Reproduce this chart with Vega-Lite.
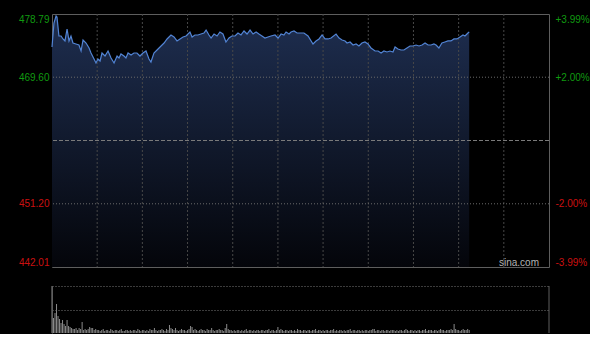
{
  "$schema": "https://vega.github.io/schema/vega-lite/v6.json",
  "background": "#000000",
  "padding": {"left": 17, "top": 13, "right": 0, "bottom": 0},
  "spacing": 19,
  "bounds": "flush",
  "config": {
    "view": {"stroke": null},
    "font": "Liberation Sans",
    "axis": {"labelFont": "Liberation Sans", "labelFontSize": 10, "ticks": false, "tickSize": 0, "domain": false, "title": null}
  },
  "datasets": {
    "price": [
      {"m":0,"p":473.99},{"m":1.3,"p":477.48},{"m":2.7,"p":478.5},{"m":3.3,"p":478.35},{"m":4.6,"p":475.59},{"m":6.0,"p":475.59},{"m":7.3,"p":475.16},{"m":8.6,"p":474.87},{"m":10.0,"p":476.61},{"m":11.3,"p":474.87},{"m":12.6,"p":475.59},{"m":13.9,"p":474.57},{"m":15.9,"p":474.43},{"m":17.9,"p":474.28},{"m":19.3,"p":473.41},{"m":20.6,"p":475.01},{"m":22.6,"p":474.57},{"m":24.6,"p":473.85},{"m":25.9,"p":473.12},{"m":27.9,"p":472.25},{"m":29.2,"p":471.67},{"m":30.5,"p":472.25},{"m":31.9,"p":471.96},{"m":33.2,"p":473.12},{"m":35.2,"p":472.68},{"m":37.2,"p":473.41},{"m":39.2,"p":472.39},{"m":41.2,"p":471.67},{"m":43.2,"p":472.68},{"m":44.5,"p":472.39},{"m":45.8,"p":472.98},{"m":47.8,"p":472.68},{"m":49.1,"p":472.39},{"m":50.5,"p":473.12},{"m":52.5,"p":472.83},{"m":54.4,"p":473.12},{"m":56.4,"p":473.12},{"m":58.4,"p":472.68},{"m":60.4,"p":473.12},{"m":62.4,"p":473.41},{"m":64.4,"p":472.25},{"m":65.7,"p":471.81},{"m":67.7,"p":473.12},{"m":70.4,"p":473.7},{"m":72.4,"p":474.14},{"m":74.4,"p":474.57},{"m":76.4,"p":475.16},{"m":79.0,"p":475.74},{"m":81.0,"p":475.45},{"m":83.0,"p":474.87},{"m":85.0,"p":475.16},{"m":87.0,"p":475.45},{"m":89.0,"p":475.59},{"m":91.6,"p":476.17},{"m":93.0,"p":475.45},{"m":94.9,"p":475.74},{"m":96.9,"p":475.74},{"m":98.9,"p":475.88},{"m":100.9,"p":476.03},{"m":102.3,"p":476.46},{"m":104.2,"p":475.74},{"m":105.6,"p":475.3},{"m":107.6,"p":475.88},{"m":109.6,"p":475.59},{"m":111.5,"p":476.17},{"m":113.5,"p":475.88},{"m":115.5,"p":474.72},{"m":117.5,"p":475.3},{"m":119.5,"p":475.59},{"m":121.5,"p":475.59},{"m":123.5,"p":476.03},{"m":125.5,"p":475.74},{"m":127.5,"p":476.32},{"m":129.5,"p":475.88},{"m":131.5,"p":476.46},{"m":133.5,"p":475.88},{"m":135.5,"p":476.17},{"m":137.4,"p":475.88},{"m":139.4,"p":475.59},{"m":141.4,"p":475.3},{"m":143.4,"p":475.45},{"m":145.4,"p":475.59},{"m":148.1,"p":475.74},{"m":150.1,"p":475.3},{"m":152.1,"p":475.88},{"m":154.0,"p":475.74},{"m":155.4,"p":476.17},{"m":157.4,"p":475.88},{"m":158.7,"p":476.17},{"m":160.7,"p":476.32},{"m":162.7,"p":476.03},{"m":165.3,"p":476.03},{"m":167.3,"p":476.03},{"m":170.0,"p":475.59},{"m":173.3,"p":474.43},{"m":175.3,"p":474.87},{"m":177.3,"p":475.16},{"m":179.3,"p":475.74},{"m":181.3,"p":475.16},{"m":183.3,"p":475.16},{"m":185.3,"p":475.3},{"m":188.6,"p":475.88},{"m":190.6,"p":475.3},{"m":192.6,"p":475.01},{"m":194.6,"p":474.87},{"m":195.9,"p":474.57},{"m":197.9,"p":474.72},{"m":199.9,"p":474.28},{"m":201.9,"p":474.43},{"m":203.8,"p":474.14},{"m":205.8,"p":474.57},{"m":207.8,"p":474.72},{"m":209.8,"p":474.43},{"m":211.8,"p":473.85},{"m":214.5,"p":473.41},{"m":216.5,"p":473.41},{"m":218.5,"p":473.12},{"m":220.4,"p":473.41},{"m":222.4,"p":473.27},{"m":224.4,"p":473.41},{"m":226.4,"p":473.27},{"m":227.8,"p":473.99},{"m":229.7,"p":473.7},{"m":231.7,"p":473.56},{"m":233.7,"p":473.56},{"m":235.7,"p":473.85},{"m":237.7,"p":474.14},{"m":239.7,"p":474.14},{"m":241.7,"p":474.28},{"m":243.7,"p":474.14},{"m":245.7,"p":474.28},{"m":247.7,"p":474.57},{"m":249.7,"p":474.28},{"m":251.7,"p":474.28},{"m":253.6,"p":474.43},{"m":255.0,"p":474.28},{"m":256.9,"p":473.85},{"m":258.9,"p":474.57},{"m":260.9,"p":474.72},{"m":262.9,"p":474.87},{"m":264.9,"p":474.87},{"m":266.9,"p":475.16},{"m":268.9,"p":475.16},{"m":270.9,"p":475.45},{"m":272.9,"p":475.74},{"m":274.2,"p":475.59},{"m":276.2,"p":476.03},{"m":277,"p":476.2}
    ],
    "volume": [
      {"m":0,"v":47},{"m":1,"v":15},{"m":2,"v":20},{"m":3,"v":29},{"m":4,"v":17},{"m":5,"v":14},{"m":6,"v":10},{"m":7,"v":13},{"m":8,"v":9},{"m":9,"v":7},
      {"m":10,"v":13},{"m":11,"v":7},{"m":12,"v":6},{"m":13,"v":5},{"m":14,"v":4},{"m":15,"v":4},{"m":16,"v":5},{"m":17,"v":3},{"m":18,"v":5},{"m":19,"v":4},
      {"m":20,"v":11},{"m":21,"v":3},{"m":22,"v":4},{"m":23,"v":3},{"m":24,"v":4},{"m":25,"v":6},{"m":26,"v":5},{"m":27,"v":5},{"m":28,"v":3},{"m":29,"v":4},
      {"m":30,"v":3},{"m":31,"v":3},{"m":32,"v":2},{"m":33,"v":3},{"m":34,"v":4},{"m":35,"v":2},{"m":36,"v":3},{"m":37,"v":3},{"m":38,"v":2},{"m":39,"v":4},
      {"m":40,"v":3},{"m":41,"v":2},{"m":42,"v":3},{"m":43,"v":3},{"m":44,"v":2},{"m":45,"v":3},{"m":46,"v":4},{"m":47,"v":2},{"m":48,"v":2},{"m":49,"v":3},
      {"m":50,"v":3},{"m":51,"v":2},{"m":52,"v":3},{"m":53,"v":2},{"m":54,"v":3},{"m":55,"v":3},{"m":56,"v":2},{"m":57,"v":4},{"m":58,"v":3},{"m":59,"v":2},
      {"m":60,"v":3},{"m":61,"v":3},{"m":62,"v":2},{"m":63,"v":3},{"m":64,"v":2},{"m":65,"v":4},{"m":66,"v":3},{"m":67,"v":3},{"m":68,"v":5},{"m":69,"v":3},
      {"m":70,"v":2},{"m":71,"v":3},{"m":72,"v":3},{"m":73,"v":4},{"m":74,"v":3},{"m":75,"v":2},{"m":76,"v":4},{"m":77,"v":3},{"m":78,"v":8},{"m":79,"v":5},
      {"m":80,"v":4},{"m":81,"v":3},{"m":82,"v":5},{"m":83,"v":3},{"m":84,"v":2},{"m":85,"v":3},{"m":86,"v":4},{"m":87,"v":3},{"m":88,"v":3},{"m":89,"v":2},
      {"m":90,"v":3},{"m":91,"v":4},{"m":92,"v":7},{"m":93,"v":6},{"m":94,"v":3},{"m":95,"v":4},{"m":96,"v":3},{"m":97,"v":2},{"m":98,"v":3},{"m":99,"v":4},
      {"m":100,"v":3},{"m":101,"v":3},{"m":102,"v":2},{"m":103,"v":4},{"m":104,"v":3},{"m":105,"v":3},{"m":106,"v":5},{"m":107,"v":3},{"m":108,"v":2},{"m":109,"v":3},
      {"m":110,"v":3},{"m":111,"v":4},{"m":112,"v":3},{"m":113,"v":3},{"m":114,"v":2},{"m":115,"v":5},{"m":116,"v":9},{"m":117,"v":4},{"m":118,"v":3},{"m":119,"v":3},
      {"m":120,"v":2},{"m":121,"v":3},{"m":122,"v":2},{"m":123,"v":3},{"m":124,"v":3},{"m":125,"v":2},{"m":126,"v":3},{"m":127,"v":2},{"m":128,"v":3},{"m":129,"v":4},
      {"m":130,"v":2},{"m":131,"v":3},{"m":132,"v":3},{"m":133,"v":2},{"m":134,"v":3},{"m":135,"v":2},{"m":136,"v":3},{"m":137,"v":3},{"m":138,"v":2},{"m":139,"v":3},
      {"m":140,"v":3},{"m":141,"v":2},{"m":142,"v":3},{"m":143,"v":3},{"m":144,"v":4},{"m":145,"v":2},{"m":146,"v":3},{"m":147,"v":3},{"m":148,"v":2},{"m":149,"v":3},
      {"m":150,"v":6},{"m":151,"v":3},{"m":152,"v":4},{"m":153,"v":3},{"m":154,"v":2},{"m":155,"v":3},{"m":156,"v":3},{"m":157,"v":2},{"m":158,"v":3},{"m":159,"v":3},
      {"m":160,"v":2},{"m":161,"v":3},{"m":162,"v":2},{"m":163,"v":4},{"m":164,"v":3},{"m":165,"v":3},{"m":166,"v":2},{"m":167,"v":3},{"m":168,"v":3},{"m":169,"v":2},
      {"m":170,"v":3},{"m":171,"v":3},{"m":172,"v":2},{"m":173,"v":3},{"m":174,"v":3},{"m":175,"v":4},{"m":176,"v":2},{"m":177,"v":3},{"m":178,"v":3},{"m":179,"v":2},
      {"m":180,"v":3},{"m":181,"v":2},{"m":182,"v":3},{"m":183,"v":3},{"m":184,"v":2},{"m":185,"v":3},{"m":186,"v":3},{"m":187,"v":4},{"m":188,"v":2},{"m":189,"v":3},
      {"m":190,"v":2},{"m":191,"v":3},{"m":192,"v":3},{"m":193,"v":2},{"m":194,"v":3},{"m":195,"v":2},{"m":196,"v":3},{"m":197,"v":3},{"m":198,"v":4},{"m":199,"v":2},
      {"m":200,"v":3},{"m":201,"v":3},{"m":202,"v":2},{"m":203,"v":3},{"m":204,"v":3},{"m":205,"v":2},{"m":206,"v":3},{"m":207,"v":2},{"m":208,"v":3},{"m":209,"v":3},
      {"m":210,"v":2},{"m":211,"v":3},{"m":212,"v":3},{"m":213,"v":4},{"m":214,"v":4},{"m":215,"v":2},{"m":216,"v":3},{"m":217,"v":3},{"m":218,"v":2},{"m":219,"v":3},
      {"m":220,"v":3},{"m":221,"v":2},{"m":222,"v":3},{"m":223,"v":3},{"m":224,"v":2},{"m":225,"v":3},{"m":226,"v":3},{"m":227,"v":3},{"m":228,"v":2},{"m":229,"v":3},
      {"m":230,"v":2},{"m":231,"v":3},{"m":232,"v":3},{"m":233,"v":2},{"m":234,"v":3},{"m":235,"v":4},{"m":236,"v":3},{"m":237,"v":2},{"m":238,"v":3},{"m":239,"v":3},
      {"m":240,"v":2},{"m":241,"v":3},{"m":242,"v":2},{"m":243,"v":3},{"m":244,"v":3},{"m":245,"v":2},{"m":246,"v":3},{"m":247,"v":3},{"m":248,"v":4},{"m":249,"v":2},
      {"m":250,"v":3},{"m":251,"v":3},{"m":252,"v":3},{"m":253,"v":2},{"m":254,"v":3},{"m":255,"v":3},{"m":256,"v":2},{"m":257,"v":3},{"m":258,"v":4},{"m":259,"v":3},
      {"m":260,"v":3},{"m":261,"v":2},{"m":262,"v":3},{"m":263,"v":3},{"m":264,"v":3},{"m":265,"v":4},{"m":266,"v":3},{"m":267,"v":9},{"m":268,"v":4},{"m":269,"v":3},
      {"m":270,"v":3},{"m":271,"v":2},{"m":272,"v":3},{"m":273,"v":4},{"m":274,"v":3},{"m":275,"v":3},{"m":276,"v":4},{"m":277,"v":3}
    ]
  },
  "vconcat": [
    {
      "width": 497,
      "height": 253,
      "view": {"stroke": "#5e5e5e", "strokeWidth": 1},
      "resolve": {"axis": {"y": "independent"}},
      "layer": [
        {
          "data": {"name": "price"},
          "mark": {"type": "area", "color": {"gradient": "linear", "x1": 0, "y1": 0, "x2": 0, "y2": 1, "stops": [{"offset": 0, "color": "#1e2e50"}, {"offset": 1, "color": "#04050a"}]}},
          "encoding": {
            "x": {"field": "m", "type": "quantitative", "scale": {"domain": [0, 330], "nice": false, "zero": false, "padding": 0}, "axis": null},
            "y": {"field": "p", "type": "quantitative", "scale": {"domain": [442.01, 478.79], "nice": false, "zero": false},
                  "axis": {"orient": "left", "values": [442.01, 451.2, 469.6, 478.79], "format": ".2f", "labelFlush": true, "labelPadding": 3, "grid": false,
                           "labelColor": {"condition": {"test": "datum.value > 460.4", "value": "#109a10"}, "value": "#cc1010"}}},
            "y2": {"datum": 442.01}
          }
        },
        {
          "data": {"values": [{"t": 30}, {"t": 60}, {"t": 90}, {"t": 120}, {"t": 150}, {"t": 180}, {"t": 210}, {"t": 240}, {"t": 270}, {"t": 300}]},
          "mark": {"type": "rule", "color": "#484848", "strokeDash": [2, 2], "strokeWidth": 1},
          "encoding": {"x": {"field": "t", "type": "quantitative"}}
        },
        {
          "data": {"values": [{"g": 451.2}, {"g": 469.6}]},
          "mark": {"type": "rule", "color": "#6a6a6a", "strokeDash": [1, 2], "strokeWidth": 1},
          "encoding": {"y": {"field": "g", "type": "quantitative", "axis": null}}
        },
        {
          "data": {"values": [{"g": 460.4}]},
          "mark": {"type": "rule", "color": "#7a7a7a", "strokeDash": [4, 2], "strokeWidth": 1},
          "encoding": {"y": {"field": "g", "type": "quantitative", "axis": null}}
        },
        {
          "data": {"name": "price"},
          "mark": {"type": "line", "color": "#5284d4", "strokeWidth": 1.2},
          "encoding": {
            "x": {"field": "m", "type": "quantitative"},
            "y": {"field": "p", "type": "quantitative",
                  "axis": {"orient": "right", "values": [442.01, 451.2, 469.6, 478.79], "labelFlush": true, "labelPadding": 6, "grid": false,
                           "labelExpr": "(datum.value > 460.4 ? '+' : '-') + format(abs(datum.value / 460.4 - 1) * 100, '.2f') + '%'",
                           "labelColor": {"condition": {"test": "datum.value > 460.4", "value": "#109a10"}, "value": "#cc1010"}}}
          }
        },
        {
          "data": {"values": [{"label": "sina.com"}]},
          "mark": {"type": "text", "align": "right", "baseline": "alphabetic", "dx": -10, "dy": -1, "fontSize": 10, "color": "#b4b4b4", "font": "Liberation Sans"},
          "encoding": {"text": {"field": "label"}, "x": {"datum": 330}, "y": {"datum": 442.01, "axis": null}}
        }
      ]
    },
    {
      "width": 497,
      "height": 47,
      "layer": [
        {
          "data": {"name": "volume"},
          "mark": {"type": "bar", "size": 1, "color": "#8a8a8a"},
          "encoding": {
            "x": {"field": "m", "type": "quantitative", "scale": {"domain": [0, 330], "nice": false, "padding": 0}, "axis": null},
            "y": {"field": "v", "type": "quantitative", "scale": {"domain": [0, 47], "nice": false},
                  "axis": {"values": [23.5, 47], "labels": false, "grid": true, "gridDash": [1, 2], "gridColor": "#777777", "domain": true, "domainColor": "#5e5e5e", "zindex": 1}}
          }
        },
        {
          "data": {"values": [{"label": "edge"}]},
          "mark": {"type": "rule", "color": "#5e5e5e", "strokeWidth": 1},
          "encoding": {"x": {"datum": 330}}
        }
      ]
    }
  ]
}
